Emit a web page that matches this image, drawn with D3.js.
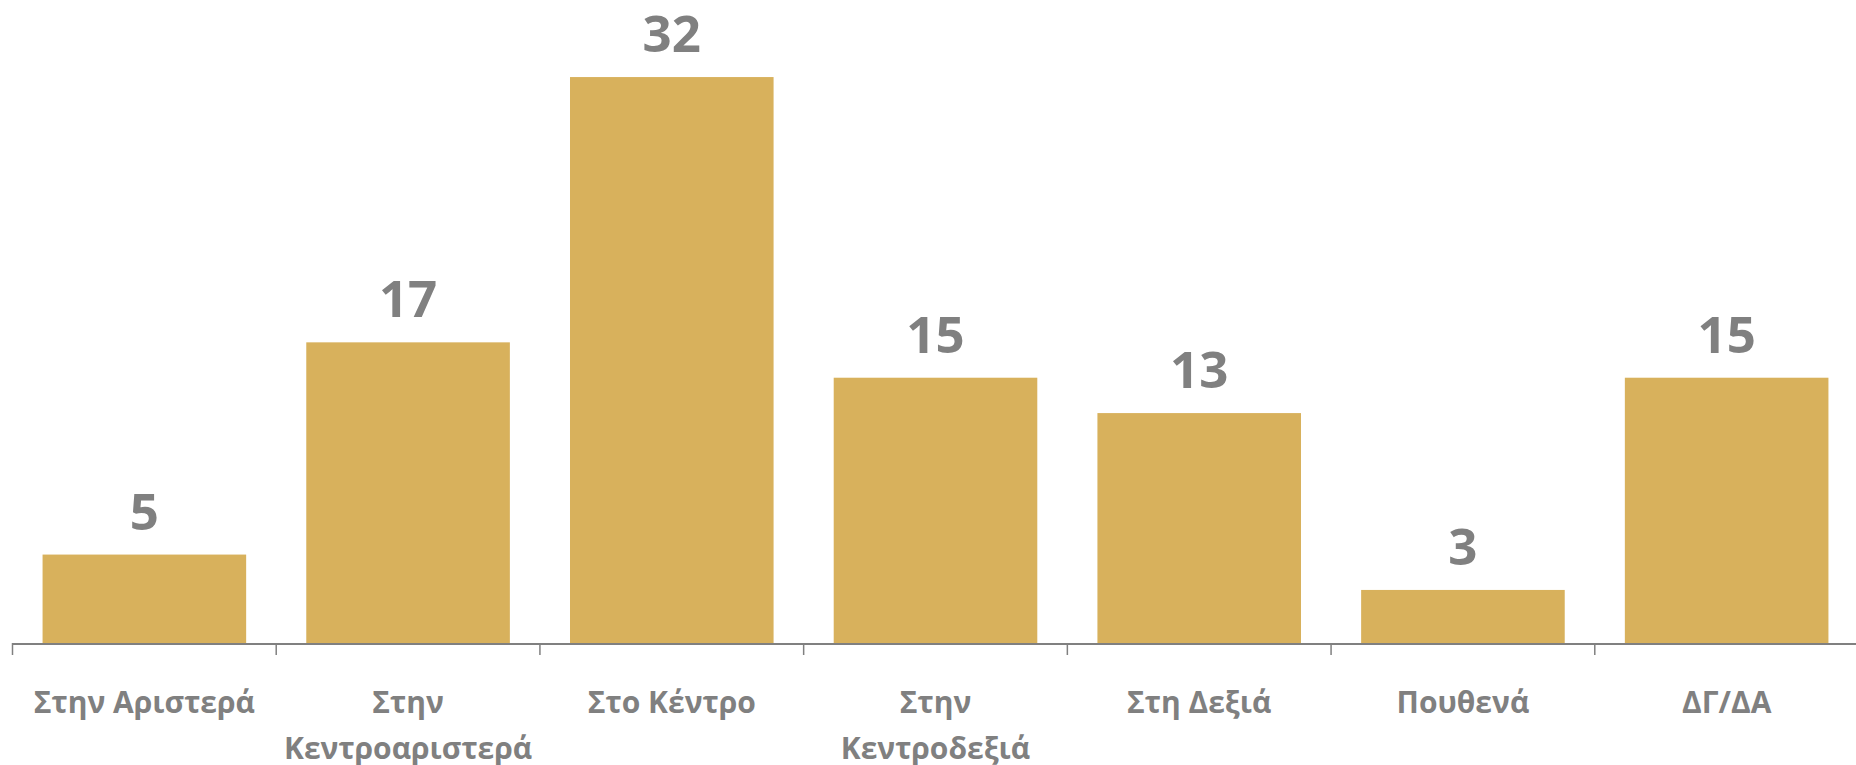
<!DOCTYPE html>
<html>
<head>
<meta charset="utf-8">
<script src="https://cdn.jsdelivr.net/npm/d3@7"></script>
<style>
  html, body { margin: 0; padding: 0; background: #ffffff; }
  svg { display: block; }
</style>
</head>
<body>
<svg id="chart" width="1856" height="765"></svg>
<script>
const categories = ["Στην Αριστερά", "Στην Κεντροαριστερά", "Στο Κέντρο", "Στην Κεντροδεξιά", "Στη Δεξιά", "Πουθενά", "ΔΓ/ΔΑ"];
const values = [5, 17, 32, 15, 13, 3, 15];

const W = 1856, H = 765;
const svg = d3.select("#chart");
const font = "'Open Sans', 'Noto Sans', sans-serif";
const grey = "#808080";
const barColor = "#D8B15C";

const x = d3.scaleBand().domain(categories).range([12.5, 1858.5]).paddingInner(0.228).paddingOuter(0.114);
const y = d3.scaleLinear().domain([0, 35]).range([643, 24]);

// bars
svg.append("g").selectAll("rect").data(values).join("rect")
  .attr("x", (d, i) => x(categories[i]))
  .attr("width", x.bandwidth())
  .attr("y", d => y(d))
  .attr("height", d => y(0) - y(d))
  .attr("fill", barColor);

// value labels
svg.append("g").selectAll("text").data(values).join("text")
  .attr("x", (d, i) => x(categories[i]) + x.bandwidth() / 2)
  .attr("y", d => y(d) - 25)
  .attr("text-anchor", "middle")
  .attr("font-family", font)
  .attr("font-weight", 700)
  .attr("font-size", 51)
  .attr("fill", grey)
  .text(d => d);

// axis
const step = x.step();
const start = x(categories[0]) - x.paddingOuter() * step;
const axis = svg.append("g");
axis.append("line")
  .attr("x1", start).attr("x2", W)
  .attr("y1", y(0) + 1).attr("y2", y(0) + 1)
  .attr("stroke", grey).attr("stroke-width", 2);
axis.selectAll("line.tick").data(categories).join("line")
  .attr("class", "tick")
  .attr("x1", (d, i) => start + i * step).attr("x2", (d, i) => start + i * step)
  .attr("y1", y(0)).attr("y2", y(0) + 12)
  .attr("stroke", grey).attr("stroke-width", 1.5);

// category labels with wrapping
const fs = 30;
const lab = axis.selectAll("text.cat").data(categories).join("text")
  .attr("class", "cat")
  .attr("text-anchor", "middle")
  .attr("font-family", font)
  .attr("font-weight", 700)
  .attr("font-size", fs)
  .attr("fill", grey);
lab.each(function(d) {
  const t = d3.select(this);
  const cx = x(d) + x.bandwidth() / 2;
  const words = d.split(" ");
  let lines = [];
  let line = [];
  const tmp = t.append("tspan");
  words.forEach(w => {
    line.push(w);
    tmp.text(line.join(" "));
    if (tmp.node().getComputedTextLength() > step - 4 && line.length > 1) {
      line.pop();
      lines.push(line.join(" "));
      line = [w];
    }
  });
  lines.push(line.join(" "));
  tmp.remove();
  lines.forEach((l, k) => {
    t.append("tspan").attr("x", cx).attr("y", 713 + k * 46).text(l);
  });
});
</script>
</body>
</html>
